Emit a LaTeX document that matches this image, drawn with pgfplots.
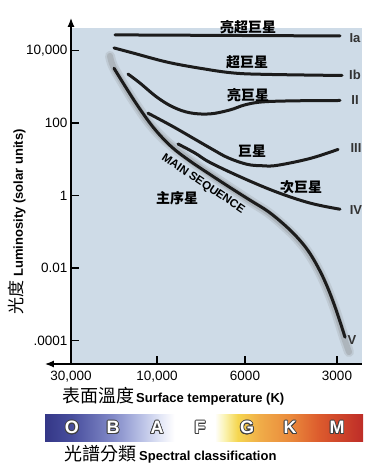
\documentclass[border=0pt]{standalone}
\usepackage{fontspec}
\setmainfont{Liberation Sans}
\newfontfamily\cjk{Noto Sans CJK TC}
\usepackage{pgfplots}
\pgfplotsset{compat=1.18}
\usetikzlibrary{arrows.meta}
\usepackage[copies]{contour}
\contourlength{0.8pt}
\definecolor{bgblue}{RGB}{206,219,231}
\definecolor{curvecol}{RGB}{28,28,28}
\definecolor{s0}{RGB}{52,55,135}
\definecolor{s1}{RGB}{72,78,157}
\definecolor{s2}{RGB}{130,138,200}
\definecolor{s3}{RGB}{182,190,228}
\definecolor{s4}{RGB}{226,230,246}
\definecolor{s5}{RGB}{255,255,255}
\definecolor{s6}{RGB}{250,242,175}
\definecolor{s7}{RGB}{245,214,80}
\definecolor{s8}{RGB}{240,172,72}
\definecolor{s9}{RGB}{234,138,60}
\definecolor{s10}{RGB}{220,90,45}
\definecolor{s11}{RGB}{190,45,40}
\pgfdeclarehorizontalshading{spectral}{100bp}{color(0bp)=(s0); color(25bp)=(s0); color(29.2bp)=(s1); color(35.7bp)=(s2); color(39.9bp)=(s3); color(43.1bp)=(s4); color(45.4bp)=(s5); color(51.7bp)=(s5); color(53.3bp)=(s6); color(55.3bp)=(s7); color(58.8bp)=(s8); color(63.5bp)=(s9); color(68.2bp)=(s10); color(75bp)=(s11); color(100bp)=(s11)}
\pgfplotsset{curve/.style={line width=3pt, color=curvecol, line cap=round, line join=round, no markers, smooth, tension=0.6}}
\newcommand{\spl}[1]{{\color{white}\contour{black!75}{\bfseries\fontsize{18}{18}\selectfont #1}}}
\begin{document}
\begin{tikzpicture}[x=1pt,y=1pt]
\path[use as bounding box] (0,0) rectangle (380,472);
\begin{axis}[
  at={(71pt,108pt)}, anchor=south west,
  width=291pt, height=336pt, scale only axis,
  xmin=71, xmax=362, ymin=-4.65, ymax=4.62,
  axis background/.style={fill=bgblue},
  axis x line*=bottom, axis y line*=left,
  x axis line style={{Latex[length=9pt,width=7pt]}-, shorten <=-26pt, line width=1.2pt},
  y axis line style={-{Latex[length=9pt,width=7pt]}, shorten >=-10pt, line width=1.2pt},
  xtick={71,157,245,337}, xticklabels={{30,000},{10,000},6000,3000},
  ytick={4,2,0,-2,-4}, yticklabels={{10,000},100,1,0.01,.0001},
  tick align=inside, major tick length=8pt,
  tick style={black, line width=1.3pt},
  ticklabel style={font=\fontsize{13.5}{14}\selectfont},
  xticklabel style={yshift=-4pt},
  /pgf/number format/assume math mode=true,
  clip=false,
]
% main sequence shadow
\addplot[line width=10pt, color=gray, opacity=0.18, line cap=round, smooth, tension=0.6, no markers] coordinates {
 (110,3.85) (113,3.57) (122,3.13) (135,2.55) (152,1.90) (172,1.36) (205,0.68) (250,-0.15) (268,-0.47) (284,-0.84) (297,-1.19) (308,-1.57) (318,-2.03) (327,-2.56) (336,-3.22) (344,-3.92) (349,-4.32)};
\addplot[line width=6pt, color=gray, opacity=0.28, line cap=round, smooth, tension=0.6, no markers] coordinates {
 (110,3.85) (113,3.57) (122,3.13) (135,2.55) (152,1.90) (172,1.36) (205,0.68) (250,-0.15) (268,-0.47) (284,-0.84) (297,-1.19) (308,-1.57) (318,-2.03) (327,-2.56) (336,-3.22) (344,-3.92) (349,-4.32)};
% Ia
\addplot[curve] coordinates {(115,4.43) (340,4.40)};
% Ib
\addplot[curve] coordinates {(114,4.07) (133,3.93) (167,3.68) (200,3.51) (233,3.38) (267,3.34) (342,3.31)};
% II
\addplot[curve] coordinates {(128,3.35) (140,3.10) (157,2.71) (173,2.44) (190,2.28) (210,2.25) (230,2.36) (245,2.50) (262,2.58) (293,2.61) (340,2.62)};
% III
\addplot[curve] coordinates {(148,2.27) (173,1.90) (195,1.55) (212,1.28) (228,1.04) (247,0.86) (262,0.82) (277,0.83) (310,1.02) (338,1.27)};
% IV
\addplot[curve] coordinates {(178,1.42) (195,1.17) (210,0.91) (243,0.48) (277,0.09) (310,-0.21) (340,-0.38)};
% V main sequence
\addplot[curve] coordinates {(114,3.51) (127,2.93) (140,2.38) (155,1.82) (172,1.33) (190,0.95) (210,0.58) (230,0.22) (250,-0.13) (268,-0.44) (284,-0.80) (297,-1.15) (308,-1.52) (318,-1.98) (327,-2.50) (336,-3.15) (345,-3.91)};
\end{axis}
% axis titles
\node[rotate=90] at (17,250) {{\cjk\fontsize{17}{17}\selectfont 光度}\hspace{4pt}{\bfseries\fontsize{13}{13}\selectfont Luminosity (solar units)}};
\node[anchor=base west, inner sep=0pt] at (62,69) {{\cjk\fontsize{18}{18}\selectfont 表面溫度}\hspace{2pt}{\bfseries\fontsize{13}{13}\selectfont Surface temperature (K)}};
% spectral bar
\shade[shading=spectral] (45,30) rectangle (363,57);
\node at (72,44) {\spl{O}};
\node at (113,44) {\spl{B}};
\node at (157,44) {\spl{A}};
\node at (200,44) {\spl{F}};
\node at (247,44) {\spl{G}};
\node at (290,44) {\spl{K}};
\node at (337,44) {\spl{M}};
\node[anchor=base west, inner sep=0pt] at (64,12) {{\cjk\fontsize{18}{18}\selectfont 光譜分類}\hspace{3pt}{\bfseries\fontsize{13}{13}\selectfont Spectral classification}};
% curve names
\node at (248,445) {\cjk\bfseries\fontsize{14}{14}\selectfont 亮超巨星};
\node at (247,410) {\cjk\bfseries\fontsize{14}{14}\selectfont 超巨星};
\node at (248,377) {\cjk\bfseries\fontsize{14}{14}\selectfont 亮巨星};
\node at (252,321) {\cjk\bfseries\fontsize{14}{14}\selectfont 巨星};
\node at (301,285) {\cjk\bfseries\fontsize{14}{14}\selectfont 次巨星};
\node at (177,274) {\cjk\bfseries\fontsize{14}{14}\selectfont 主序星};
\node[rotate=-34] at (203,288) {\bfseries\fontsize{11.5}{12}\selectfont MAIN SEQUENCE};
% luminosity classes
\node[text=black!80] at (355,434) {\bfseries\fontsize{13}{13}\selectfont Ia};
\node[text=black!80] at (355,397) {\bfseries\fontsize{13}{13}\selectfont Ib};
\node[text=black!80] at (355,372) {\bfseries\fontsize{13}{13}\selectfont II};
\node[text=black!80] at (356,324) {\bfseries\fontsize{13}{13}\selectfont III};
\node[text=black!80] at (356,262) {\bfseries\fontsize{13}{13}\selectfont IV};
\node[text=black!80] at (352,132) {\bfseries\fontsize{13}{13}\selectfont V};
\end{tikzpicture}
\end{document}
